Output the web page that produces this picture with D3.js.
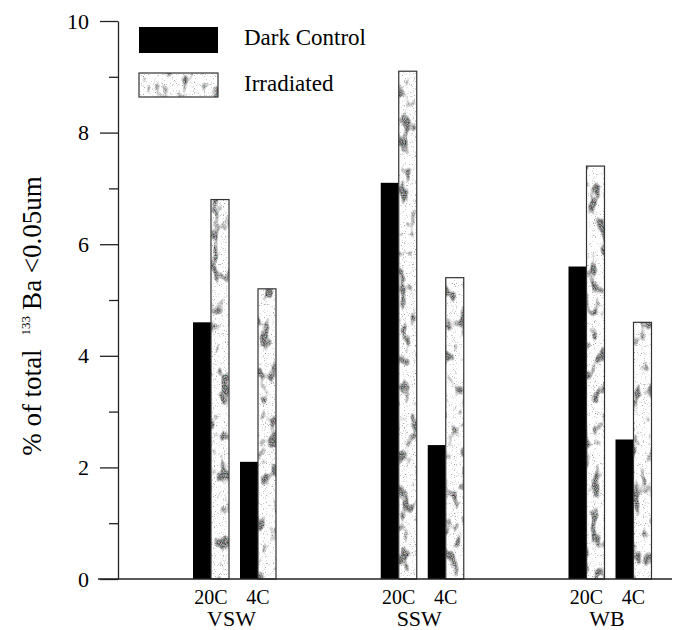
<!DOCTYPE html>
<html>
<head>
<meta charset="utf-8">
<script src="https://cdn.jsdelivr.net/npm/d3@7"></script>
<style>
  html, body { margin: 0; padding: 0; background: #fff; }
  svg { display: block; }
</style>
</head>
<body>
<svg id="chart" width="679" height="630"></svg>
<script>
// data
const groups = ["VSW", "SSW", "WB"];
const temps = ["20C", "4C"];
const seriesNames = ["Dark Control", "Irradiated"];
// order: VSW 20C, VSW 4C, SSW 20C, SSW 4C, WB 20C, WB 4C
const darkValues = [4.6, 2.1, 7.1, 2.4, 5.6, 2.5];
const irradiatedValues = [6.8, 5.2, 9.1, 5.4, 7.4, 4.6];
const yTicks = [0, 2, 4, 6, 8, 10];
const yMinorTicks = [1, 3, 5, 7, 9];

const serif = '"Liberation Serif", "Times New Roman", Times, serif';
const svg = d3.select('#chart');

// speckled grey fill for the irradiated bars
const defs = svg.append('defs');
const f = defs.append('filter')
    .attr('id', 'speckle')
    .attr('x', 0).attr('y', 0).attr('width', 1).attr('height', 1)
    .attr('color-interpolation-filters', 'sRGB');
f.append('feFlood').attr('flood-color', '#fff').attr('result', 'bg');
f.append('feTurbulence').attr('type', 'fractalNoise').attr('baseFrequency', 0.9)
    .attr('numOctaves', 1).attr('seed', 3).attr('result', 'fine');
f.append('feColorMatrix').attr('in', 'fine').attr('type', 'matrix')
    .attr('values', '0 0 0 0 0.55  0 0 0 0 0.55  0 0 0 0 0.55  5 0 0 0 -3.05')
    .attr('result', 'dots');
f.append('feTurbulence').attr('type', 'fractalNoise').attr('baseFrequency', '0.1 0.06')
    .attr('numOctaves', 2).attr('seed', 11).attr('result', 'coarse');
f.append('feColorMatrix').attr('in', 'coarse').attr('type', 'matrix')
    .attr('values', '0 0 0 0 0.6  0 0 0 0 0.6  0 0 0 0 0.6  6 0 0 0 -3.3')
    .attr('result', 'blobs');
// break blobs up with fine grain
f.append('feComposite').attr('in', 'blobs').attr('in2', 'fine').attr('operator', 'arithmetic')
    .attr('k1', 1.5).attr('k2', 0).attr('k3', 0).attr('k4', 0).attr('result', 'grainy');
const merge = f.append('feMerge').attr('result', 'all');
merge.append('feMergeNode').attr('in', 'bg');
merge.append('feMergeNode').attr('in', 'grainy');
merge.append('feMergeNode').attr('in', 'dots');
f.append('feComposite').attr('in', 'all').attr('in2', 'SourceGraphic').attr('operator', 'in');

// scales
const y = d3.scaleLinear().domain([0, 10]).range([579, 21]);
const xGroup = d3.scalePoint().domain(groups).range([234.5, 610]);
const xTemp = d3.scaleBand().domain(temps).range([-41.5, 41.5]).paddingInner(0.234);
const xSeries = d3.scaleBand().domain(seriesNames).range([0, xTemp.bandwidth()]);

const rows = [];
groups.forEach((g, gi) => {
    temps.forEach((t, ti) => {
        const i = gi * temps.length + ti;
        rows.push({ group: g, temp: t, series: seriesNames[0], value: darkValues[i] });
        rows.push({ group: g, temp: t, series: seriesNames[1], value: irradiatedValues[i] });
    });
});
const barX = d => xGroup(d.group) + xTemp(d.temp) + xSeries(d.series);

// bars
const bars = svg.append('g');
bars.selectAll('rect.dark')
    .data(rows.filter(d => d.series === seriesNames[0]))
    .join('rect')
    .attr('class', 'dark')
    .attr('x', barX)
    .attr('y', d => y(d.value))
    .attr('width', xSeries.bandwidth())
    .attr('height', d => y(0) - y(d.value))
    .attr('fill', '#000');

const irr = rows.filter(d => d.series === seriesNames[1]);
bars.selectAll('rect.irr')
    .data(irr)
    .join('rect')
    .attr('class', 'irr')
    .attr('x', barX)
    .attr('y', d => y(d.value))
    .attr('width', xSeries.bandwidth())
    .attr('height', d => y(0) - y(d.value))
    .attr('fill', '#fff')
    .attr('filter', 'url(#speckle)');
bars.selectAll('rect.irr-edge')
    .data(irr)
    .join('rect')
    .attr('class', 'irr-edge')
    .attr('x', barX)
    .attr('y', d => y(d.value))
    .attr('width', xSeries.bandwidth())
    .attr('height', d => y(0) - y(d.value))
    .attr('fill', 'none')
    .attr('stroke', '#333')
    .attr('stroke-width', 1.2);

// y axis
const yAxis = svg.append('g')
    .attr('transform', 'translate(118,0)')
    .call(d3.axisLeft(y).tickValues(yTicks).tickSize(18).tickSizeOuter(0).tickPadding(11));
yAxis.selectAll('text')
    .style('font-family', serif)
    .style('font-size', '22px')
    .attr('fill', '#000');
svg.append('g')
    .attr('transform', 'translate(118,0)')
    .call(d3.axisLeft(y).tickValues(yMinorTicks).tickSize(9).tickSizeOuter(0).tickFormat(''))
    .select('.domain').remove();
svg.selectAll('.tick line, .domain').attr('stroke', '#222').attr('stroke-width', 1.3);

// x baseline
svg.append('line')
    .attr('x1', 98).attr('x2', 672)
    .attr('y1', y(0)).attr('y2', y(0))
    .attr('stroke', '#222').attr('stroke-width', 1.3);

// x labels
const tempLabels = svg.append('g');
groups.forEach(g => {
    temps.forEach(t => {
        tempLabels.append('text')
            .attr('x', xGroup(g) + xTemp(t) + xTemp.bandwidth() / 2)
            .attr('y', 604)
            .attr('text-anchor', 'middle')
            .style('font-family', serif)
            .style('font-size', '20px')
            .text(t);
    });
});
svg.append('g')
    .selectAll('text')
    .data(groups)
    .join('text')
    .attr('x', d => xGroup(d) - 3)
    .attr('y', 626)
    .attr('text-anchor', 'middle')
    .style('font-family', serif)
    .style('font-size', '22px')
    .text(d => d);

// y label
const yl = svg.append('text')
    .attr('transform', 'translate(41,316) rotate(-90)')
    .attr('text-anchor', 'middle')
    .style('font-family', serif)
    .style('font-size', '27px');
yl.append('tspan').text('% of total');
yl.append('tspan').attr('dx', 14).attr('dy', -11).style('font-size', '13px').text('133');
yl.append('tspan').attr('dx', 6).attr('dy', 11).text('Ba <0.05um');

// legend
const legend = svg.append('g');
const legendY = d3.scalePoint().domain(seriesNames).range([40, 86]);
legend.selectAll('rect.sw')
    .data(seriesNames)
    .join('rect')
    .attr('class', 'sw')
    .attr('x', 139)
    .attr('y', d => legendY(d) - 13)
    .attr('width', 79)
    .attr('height', (d, i) => i === 0 ? 26 : 24)
    .attr('fill', (d, i) => i === 0 ? '#000' : '#fff')
    .attr('filter', (d, i) => i === 0 ? null : 'url(#speckle)');
legend.append('rect')
    .attr('x', 139)
    .attr('y', legendY(seriesNames[1]) - 13)
    .attr('width', 79)
    .attr('height', 24)
    .attr('fill', 'none')
    .attr('stroke', '#333')
    .attr('stroke-width', 1.2);
legend.selectAll('text')
    .data(seriesNames)
    .join('text')
    .attr('x', 244)
    .attr('y', d => legendY(d) + 5)
    .style('font-family', serif)
    .style('font-size', '23px')
    .text(d => d);
</script>
</body>
</html>
